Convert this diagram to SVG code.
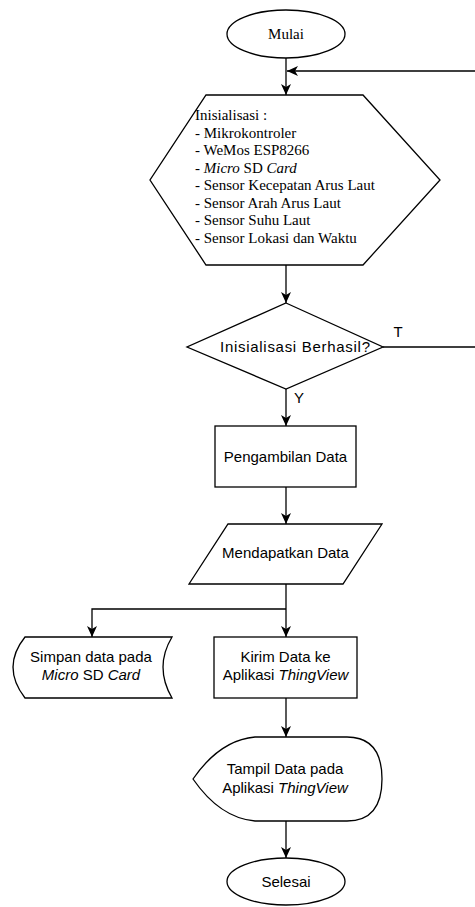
<svg xmlns="http://www.w3.org/2000/svg" width="475" height="907" viewBox="0 0 475 907">
<style>
.s{fill:#fff;stroke:#000;stroke-width:1.3}
.c{fill:none;stroke:#000;stroke-width:1.3}
.t{font-family:"Liberation Sans",Arial,sans-serif;font-size:15px;fill:#000;text-anchor:middle}
.sf{font-family:"Liberation Serif","Times New Roman",serif;font-size:15px;fill:#000}
.i{font-style:italic}
</style>
<defs>
<marker id="a" markerUnits="userSpaceOnUse" markerWidth="12" markerHeight="10" refX="11" refY="5" orient="auto">
<path d="M0,0 L11,5 L0,10 L3,5 Z" fill="#000"/>
</marker>
</defs>
<rect width="475" height="907" fill="#fff"/>
<g id="connectors">
<path class="c" d="M286,58 V95" marker-end="url(#a)"/>
<path class="c" d="M383,347 H477 V71 H287" marker-end="url(#a)"/>
<path class="c" d="M286,265 V303" marker-end="url(#a)"/>
<path class="c" d="M286,389 V426" marker-end="url(#a)"/>
<path class="c" d="M286,487 V524" marker-end="url(#a)"/>
<path class="c" d="M286,584 V637" marker-end="url(#a)"/>
<path class="c" d="M286,609 H92 V637" marker-end="url(#a)"/>
<path class="c" d="M286,698 V737" marker-end="url(#a)"/>
<path class="c" d="M286,821 V858" marker-end="url(#a)"/>
<text class="t" x="398" y="337">T</text>
<text class="t" x="299" y="403">Y</text>
</g>
<g id="mulai">
<ellipse class="s" cx="286" cy="34" rx="59" ry="24"/>
<text class="sf" x="286" y="39" text-anchor="middle">Mulai</text>
</g>
<g id="inisialisasi">
<polygon class="s" points="206,95 363,95 440,180 363,265 206,265 150,180"/>
<text class="sf" x="195" y="120">Inisialisasi :</text>
<text class="sf" x="195" y="137.5">- Mikrokontroler</text>
<text class="sf" x="195" y="155">- WeMos ESP8266</text>
<text class="sf" x="195" y="172.5">- <tspan class="i">Micro</tspan> SD <tspan class="i">Card</tspan></text>
<text class="sf" x="195" y="190">- Sensor Kecepatan Arus Laut</text>
<text class="sf" x="195" y="207.5">- Sensor Arah Arus Laut</text>
<text class="sf" x="195" y="225">- Sensor Suhu Laut</text>
<text class="sf" x="195" y="242.5">- Sensor Lokasi dan Waktu</text>
</g>
<g id="cek">
<polygon class="s" points="286,303 383,347 286,389 187,347"/>
<text class="t" x="295" y="352" textLength="150" lengthAdjust="spacing">Inisialisasi Berhasil?</text>
</g>
<g id="pengambilan">
<rect class="s" x="215" y="426" width="141" height="61"/>
<text class="t" x="285.5" y="462">Pengambilan Data</text>
</g>
<g id="mendapatkan">
<polygon class="s" points="228,524 382,524 343,584 189,584"/>
<text class="t" x="285.5" y="558">Mendapatkan Data</text>
</g>
<g id="simpan">
<path class="s" d="M25,637 H172 Q154,667 172,698 H25 Q1,667 25,637 Z"/>
<text class="t" x="91" y="662">Simpan data pada</text>
<text class="t" x="91" y="680"><tspan class="i">Micro</tspan> SD <tspan class="i">Card</tspan></text>
</g>
<g id="kirim">
<rect class="s" x="214" y="637" width="143" height="61"/>
<text class="t" x="285.5" y="662">Kirim Data ke</text>
<text class="t" x="285.5" y="680">Aplikasi <tspan class="i">ThingView</tspan></text>
</g>
<g id="tampil">
<path class="s" d="M193,779 Q220,740 255,737 H347 Q382,737 382,779 Q382,821 347,821 H255 Q220,818 193,779 Z"/>
<text class="t" x="285" y="774">Tampil Data pada</text>
<text class="t" x="285" y="793">Aplikasi <tspan class="i">ThingView</tspan></text>
</g>
<g id="selesai">
<ellipse class="s" cx="286" cy="881.5" rx="59" ry="23.5"/>
<text class="t" x="286" y="887">Selesai</text>
</g>
</svg>
